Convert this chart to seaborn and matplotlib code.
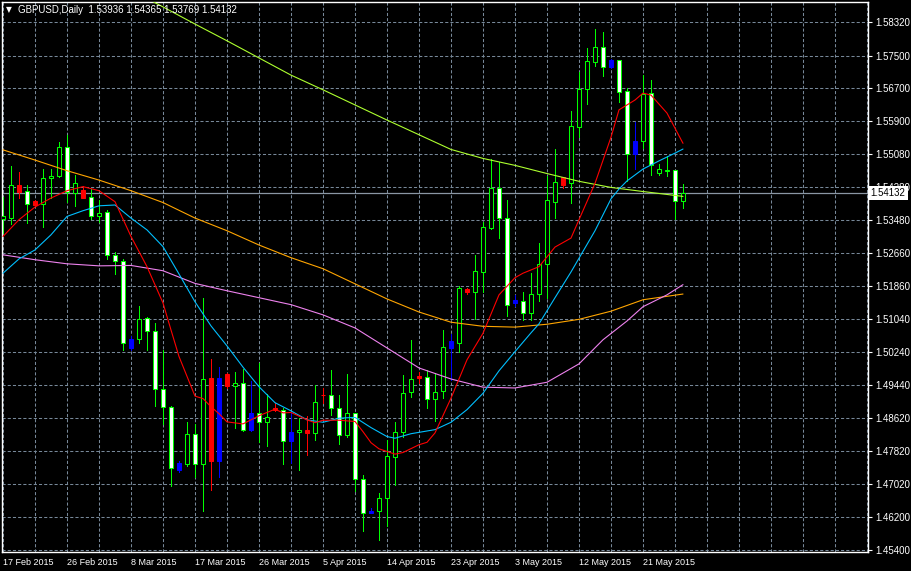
import numpy as np
import matplotlib
matplotlib.use("Agg")
import matplotlib.pyplot as plt
import matplotlib.transforms as mtransforms
import seaborn as sns

# %%
# Daily GBPUSD bars, 17 Feb 2015 .. 27 May 2015 (one bar per trading day incl. Sundays)
open_ = [
    1.5350, 1.5352, 1.5432, 1.5418, 1.5394, 1.5386, 1.5449, 1.5454, 1.5525, 1.5413,
    1.5421, 1.5403, 1.5356, 1.5366, 1.5261, 1.5247, 1.5035, 1.5056, 1.5107, 1.5076,
    1.4933, 1.4889, 1.4734, 1.4751, 1.4823, 1.4750, 1.4960, 1.4756, 1.4971, 1.4940,
    1.4948, 1.4832, 1.4874, 1.4852, 1.4888, 1.4882, 1.4806, 1.4827, 1.4834, 1.4826,
    1.4919, 1.4918, 1.4887, 1.4820, 1.4875, 1.4713, 1.4631, 1.4634, 1.4667, 1.4768,
    1.4827, 1.4925, 1.4966, 1.4963, 1.4909, 1.4928, 1.5035, 1.5047, 1.5179, 1.5172,
    1.5221, 1.5328, 1.5425, 1.5352, 1.5144, 1.5150, 1.5119, 1.5166, 1.5239, 1.5392,
    1.5452, 1.5437, 1.5576, 1.5667, 1.5735, 1.5770, 1.5721, 1.5738, 1.5663, 1.5510,
    1.5540, 1.5658, 1.5462, 1.5470, 1.5469, 1.53936,
]
high_ = [
    1.5404, 1.5480, 1.5466, 1.5432, 1.5397, 1.5472, 1.5472, 1.5538, 1.5556, 1.5458,
    1.5431, 1.5423, 1.5397, 1.5372, 1.5269, 1.5251, 1.5064, 1.5137, 1.5109, 1.5096,
    1.5028, 1.4892, 1.4756, 1.4853, 1.4848, 1.5157, 1.5007, 1.4987, 1.4973, 1.4974,
    1.4982, 1.4954, 1.4998, 1.4921, 1.4899, 1.4887, 1.4875, 1.4862, 1.4868, 1.4944,
    1.4936, 1.4981, 1.4919, 1.4970, 1.4875, 1.4724, 1.4642, 1.4679, 1.4809, 1.4852,
    1.4968, 1.5054, 1.4976, 1.4981, 1.4972, 1.5078, 1.5068, 1.5186, 1.5181, 1.5262,
    1.5343, 1.5496, 1.5490, 1.5397, 1.5164, 1.5172, 1.5217, 1.5291, 1.5455, 1.5521,
    1.5452, 1.5613, 1.5710, 1.5769, 1.5815, 1.5808, 1.5741, 1.5739, 1.5670, 1.5587,
    1.5702, 1.5690, 1.5485, 1.5505, 1.5469, 1.54365,
]
low_ = [
    1.5316, 1.5338, 1.5402, 1.5341, 1.5382, 1.5331, 1.5400, 1.5452, 1.5391, 1.5382,
    1.5401, 1.5350, 1.5343, 1.5251, 1.5214, 1.5029, 1.5029, 1.5046, 1.5028, 1.4891,
    1.4848, 1.4697, 1.4731, 1.4746, 1.4719, 1.4634, 1.4685, 1.4719, 1.4936, 1.4838,
    1.4830, 1.4831, 1.4803, 1.4795, 1.4880, 1.4750, 1.4752, 1.4736, 1.4773, 1.4808,
    1.4900, 1.4870, 1.4799, 1.4817, 1.4683, 1.4585, 1.4630, 1.4563, 1.4599, 1.4699,
    1.4816, 1.4914, 1.4948, 1.4887, 1.4854, 1.4911, 1.4956, 1.5025, 1.5166, 1.5105,
    1.5170, 1.5326, 1.5303, 1.5111, 1.5137, 1.5103, 1.5103, 1.5148, 1.5156, 1.5353,
    1.5425, 1.5390, 1.5551, 1.5631, 1.5725, 1.5701, 1.5720, 1.5637, 1.5442, 1.5471,
    1.5523, 1.5458, 1.5458, 1.5454, 1.5350, 1.53769,
]
close_ = [
    1.5357, 1.5432, 1.5417, 1.5386, 1.5384, 1.5450, 1.5455, 1.5525, 1.5417, 1.5437,
    1.5402, 1.5357, 1.5364, 1.5261, 1.5246, 1.5047, 1.5056, 1.5105, 1.5075, 1.4933,
    1.4889, 1.4740, 1.4752, 1.4823, 1.4750, 1.4958, 1.4756, 1.4960, 1.4940, 1.4948,
    1.4834, 1.4875, 1.4852, 1.4864, 1.4882, 1.4806, 1.4829, 1.4834, 1.4826, 1.4901,
    1.4918, 1.4887, 1.4821, 1.4874, 1.4713, 1.4630, 1.4636, 1.4667, 1.4770, 1.4827,
    1.4923, 1.4958, 1.4961, 1.4909, 1.4927, 1.5036, 1.5051, 1.5180, 1.5171, 1.5222,
    1.5330, 1.5425, 1.5352, 1.5140, 1.5152, 1.5119, 1.5166, 1.5239, 1.5396, 1.5440,
    1.5433, 1.5578, 1.5667, 1.5737, 1.5770, 1.5723, 1.5739, 1.5660, 1.5510, 1.5541,
    1.5656, 1.5481, 1.5472, 1.5468, 1.5393, 1.54132,
]
# candle look: k = bull (hollow), w = bear (white), r / b = highlighted red / blue
candle_kind = "".join([
    "kkrwrkkkwk", "rwkwwwbkww", "wwbkwkrbrk", "wbwkrwbkrk", "rwwkwwbkkk",
    "kkrwkkbkrk", "kkwwbwkkkk", "rkkkkwbwwb", "kwkkwk",
])

# moving averages (bar index, price)
fast_bars = [0, 2, 4, 6, 8, 10, 12, 14, 16, 18, 20, 21, 22, 24, 25, 26, 27, 28, 30, 32,
             34, 35, 36, 38, 39, 40, 42, 44, 45, 46, 47, 49, 50, 52, 53, 54, 56, 58, 60, 62,
             64, 65, 67, 69, 71, 72, 74, 76, 77, 79, 80, 81, 83, 85]
fast_ma = [1.5307, 1.5348, 1.5379, 1.5401, 1.5419, 1.5429, 1.5419, 1.5392, 1.5307, 1.5233,
           1.5144, 1.5078, 1.5013, 1.4916, 1.4910, 1.4890, 1.4873, 1.4853, 1.4848, 1.4868,
           1.4884, 1.4875, 1.4876, 1.4858, 1.4851, 1.4857, 1.4857, 1.4854, 1.4829, 1.4802,
           1.4787, 1.4774, 1.4778, 1.4797, 1.4803, 1.4826, 1.4911, 1.5005, 1.5070, 1.5164,
           1.5206, 1.5217, 1.5233, 1.5281, 1.5303, 1.5348, 1.5437, 1.5550, 1.5617, 1.5641,
           1.5658, 1.5653, 1.5609, 1.5535]

mid_bars = [0, 2, 4, 6, 8, 10, 12, 14, 16, 18, 20, 22, 24, 26, 28, 30, 32, 34, 36, 38,
            40, 42, 44, 46, 48, 49, 51, 54, 56, 58, 60, 62, 64, 66, 67, 69, 71, 74, 76, 77,
            78, 80, 82, 84, 85]
mid_ma = [1.5217, 1.5252, 1.5274, 1.5311, 1.5356, 1.5370, 1.5382, 1.5384, 1.5352, 1.5323,
          1.5282, 1.5215, 1.5147, 1.5088, 1.5039, 1.4987, 1.4939, 1.4900, 1.4880, 1.4858,
          1.4852, 1.4862, 1.4864, 1.4839, 1.4817, 1.4813, 1.4824, 1.4834, 1.4852, 1.4883,
          1.4923, 1.4978, 1.5025, 1.5071, 1.5093, 1.5157, 1.5220, 1.5321, 1.5399, 1.5423,
          1.5443, 1.5472, 1.5492, 1.5511, 1.5521]

long_bars = [16, 20, 24, 28, 32, 36, 40, 44, 48, 52, 56, 60, 64, 68, 72, 76, 80, 85]
long_ma = [1.5910, 1.5869, 1.5827, 1.5786, 1.5744, 1.5702, 1.5666, 1.5629, 1.5592,
           1.5556, 1.5520, 1.5498, 1.5481, 1.5461, 1.5442, 1.5427, 1.5417, 1.5405]

orange_bars = [0, 4, 8, 12, 16, 20, 24, 28, 32, 36, 40, 44, 48, 52, 56, 60, 64, 68, 72,
               76, 80, 85]
orange_ma = [1.5519, 1.5494, 1.5468, 1.5445, 1.5419, 1.5390, 1.5352, 1.5321, 1.5286,
             1.5255, 1.5228, 1.5191, 1.5154, 1.5122, 1.5097, 1.5087, 1.5085, 1.5092,
             1.5104, 1.5124, 1.5152, 1.5166]

violet_bars = [0, 4, 8, 12, 16, 20, 24, 28, 32, 36, 40, 44, 48, 52, 56, 60, 64, 68, 72,
               75, 78, 80, 83, 85]
violet_ma = [1.5262, 1.5250, 1.5240, 1.5235, 1.5236, 1.5223, 1.5192, 1.5174, 1.5157,
             1.5140, 1.5115, 1.5083, 1.5034, 1.4985, 1.4958, 1.4938, 1.4936, 1.4950,
             1.4995, 1.5054, 1.5100, 1.5135, 1.5164, 1.5189]

date_ticks = [0, 8, 16, 24, 32, 40, 48, 56, 64, 72, 80]
date_labels = ["17 Feb 2015", "26 Feb 2015", "8 Mar 2015", "17 Mar 2015", "26 Mar 2015",
               "5 Apr 2015", "14 Apr 2015", "23 Apr 2015", "3 May 2015", "12 May 2015",
               "21 May 2015"]
price_labels = ["1.45400", "1.46200", "1.47020", "1.47820", "1.48620", "1.49440",
                "1.50240", "1.51040", "1.51860", "1.52660", "1.53480", "1.54280",
                "1.55080", "1.55900", "1.56700", "1.57500", "1.58320"]
last_price = 1.54132
header = "GBPUSD,Daily  1.53936 1.54365 1.53769 1.54132"

# %%
# Style
sns.set_style("dark", {
    "axes.facecolor": "black",
    "figure.facecolor": "black",
    "axes.edgecolor": "white",
    "grid.color": "#778899",
    "text.color": "white",
    "xtick.color": "white",
    "ytick.color": "white",
})
plt.rcParams["font.family"] = ["Liberation Sans", "DejaVu Sans"]

fig = plt.figure(figsize=(9.11, 5.71), dpi=100)
ax = fig.add_axes([2 / 911, 19 / 571, 866 / 911, 550 / 571])
ax.set_facecolor("black")
ax.set_axisbelow(True)

# %%
# Candles
bars = np.arange(len(open_))
o = np.array(open_)
c = np.array(close_)
body_lo = np.minimum(o, c)
body_hi = np.maximum(o, c)

fill_map = {"k": "black", "w": "white", "r": "#ff0000", "b": "#0000ff"}
edge_map = {"k": "#00ff00", "w": "#00ff00", "r": "#ff0000", "b": "#0000ff"}
fills = [fill_map[k] for k in candle_kind]
edges = [edge_map[k] for k in candle_kind]

ax.axhline(last_price, color="#8a96a3", linewidth=0.9, zorder=1.5)
ax.vlines(bars, low_, high_, colors=edges, linewidth=0.7, zorder=2,
          antialiased=False)
ax.bar(bars, body_hi - body_lo, bottom=body_lo, width=0.5, color=fills,
       edgecolor=edges, linewidth=0.75, zorder=3)

# %%
# Moving averages
ma_lines = [
    (long_bars, long_ma, "#adff2f"),
    (orange_bars, orange_ma, "#ffa500"),
    (violet_bars, violet_ma, "#ee82ee"),
    (mid_bars, mid_ma, "#00bfff"),
    (fast_bars, fast_ma, "#ff0000"),
]
for xs, ys, col in ma_lines:
    sns.lineplot(x=xs, y=ys, ax=ax, color=col, linewidth=0.8, estimator=None,
                 sort=False, zorder=4)

# %%
# Axes, grid, labels
ax.set_xlim(-0.125, 108.125)
ax.set_ylim(1.45344, 1.58810)

ax.set_xticks(date_ticks)
ax.set_xticklabels(date_labels, ha="left")
ax.set_xticks(np.arange(0, 109, 4), minor=True)
ax.tick_params(axis="x", which="major", length=3, color="white", labelcolor="white",
               labelsize=6.5, pad=1.5, direction="out")
ax.tick_params(axis="x", which="minor", length=0)

ax.yaxis.tick_right()
ax.set_yticks([float(p) for p in price_labels])
ax.set_yticklabels(price_labels)
ax.tick_params(axis="y", length=3, color="white", labelcolor="white", labelsize=7,
               pad=2, direction="out")

ax.grid(True, which="both", axis="x", color="#778899", linestyle=(0, (3, 2)),
        linewidth=0.75)
ax.grid(True, which="major", axis="y", color="#778899", linestyle=(0, (3, 2)),
        linewidth=0.75)

for s in ax.spines.values():
    s.set_color("white")
    s.set_linewidth(1.0)
    s.set_visible(True)

ax.set_xlabel("")
ax.set_ylabel("")

# last price tag on the price scale (covers the lower half of the 1.54280 label)
tag_tf = mtransforms.blended_transform_factory(ax.transAxes, ax.transData)
ax.annotate(f"{last_price:.5f}", xy=(1.0, last_price), xycoords=tag_tf,
            xytext=(2, 0), textcoords="offset points", ha="left", va="center",
            fontsize=7, color="black", annotation_clip=False, zorder=10,
            bbox=dict(boxstyle="square,pad=0.2", fc="white", ec="none"))

# header
fig.text(6 / 911, 1 - 10 / 571, "\u25bc", color="white", fontsize=5.5, va="center",
         family=["DejaVu Sans"])
fig.text(18 / 911, 1 - 10 / 571, header, color="white", fontsize=7, va="center")

fig.savefig("out.png", dpi=100, facecolor="black")
